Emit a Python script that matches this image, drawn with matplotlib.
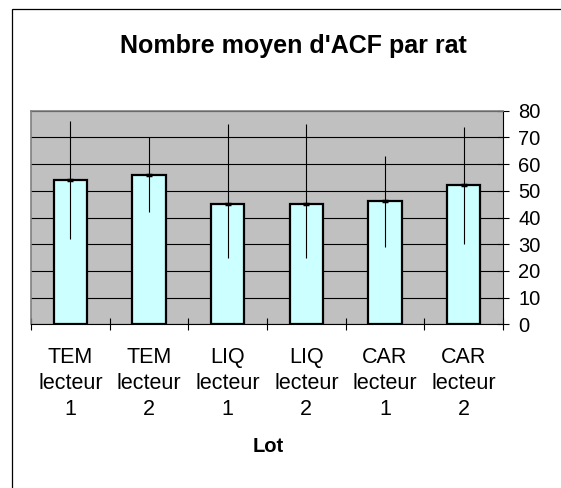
import matplotlib
matplotlib.use("Agg")
import matplotlib.pyplot as plt
import matplotlib.patches as mpatches
import numpy as np

# Data
groups = ["TEM\nlecteur\n1", "TEM\nlecteur\n2", "LIQ\nlecteur\n1",
          "LIQ\nlecteur\n2", "CAR\nlecteur\n1", "CAR\nlecteur\n2"]
means = [54, 56, 45, 45, 46, 52]
err_low = [22, 14, 20, 20, 17, 22]
err_high = [22, 14, 30, 30, 17, 22]
y_ticks = [0, 10, 20, 30, 40, 50, 60, 70, 80]

plt.rcParams['font.family'] = ['Liberation Sans', 'DejaVu Sans']

W, H = 561, 488
fig = plt.figure(figsize=(W / 100, H / 100), dpi=100)
fig.patch.set_facecolor('white')

# axes box in pixel terms from the reference
left, right, top, bottom = 31, 503, 110.7, 324.3
ax = fig.add_axes([left / W, 1 - bottom / H, (right - left) / W, (bottom - top) / H])
ax.set_facecolor('#C0C0C0')

x = np.arange(len(groups))
ax.bar(x, means, width=0.42, color='#CCFFFF', edgecolor='black', linewidth=1.6, zorder=3)
ax.errorbar(x, means, yerr=[err_low, err_high], fmt='none', ecolor='black',
            elinewidth=0.8, capsize=0, zorder=4)
ax.plot(x, means, linestyle='none', marker='_', markersize=5, mew=2.5,
        color='black', zorder=5)

ax.set_xlim(-0.5, len(groups) - 0.5)
ax.set_ylim(0, 80)

# y axis on the right, Excel style crossing ticks
ax.yaxis.tick_right()
ax.set_yticks(y_ticks)
ax.tick_params(axis='y', which='major', direction='inout', length=8, width=0.8,
               labelsize=14.5, pad=7, colors='black')
ax.yaxis.grid(True, color='black', linewidth=0.8, zorder=1)

# x axis: labels centred, tick marks on category boundaries
ax.set_xticks(x)
ax.set_xticklabels(groups, fontsize=15.5, linespacing=1.32)
ax.set_xticks(np.arange(len(groups) + 1) - 0.5, minor=True)
ax.tick_params(axis='x', which='major', length=0, pad=16)
ax.tick_params(axis='x', which='minor', direction='inout', length=8, width=0.8)

for side in ['top', 'left']:
    ax.spines[side].set_color('#808080')
    ax.spines[side].set_linewidth(1.2)
ax.spines['right'].set_color('black')
ax.spines['right'].set_linewidth(0.8)
ax.spines['bottom'].set_color('black')
ax.spines['bottom'].set_linewidth(0.8)

fig.text(293 / W, 1 - 46 / H, "Nombre moyen d'ACF par rat", ha='center', va='center',
         fontsize=18, fontweight='bold')
fig.text(268 / W, 1 - 447 / H, "Lot", ha='center', va='center',
         fontsize=14.5, fontweight='bold')

# chart area border (extends past the right and bottom edges)
fig.add_artist(mpatches.Rectangle((12 / W, -0.1), 1.2, 1.1 - 9 / H, fill=False,
                                  edgecolor='black', linewidth=0.9,
                                  transform=fig.transFigure))

fig.savefig('out.png', dpi=100)
